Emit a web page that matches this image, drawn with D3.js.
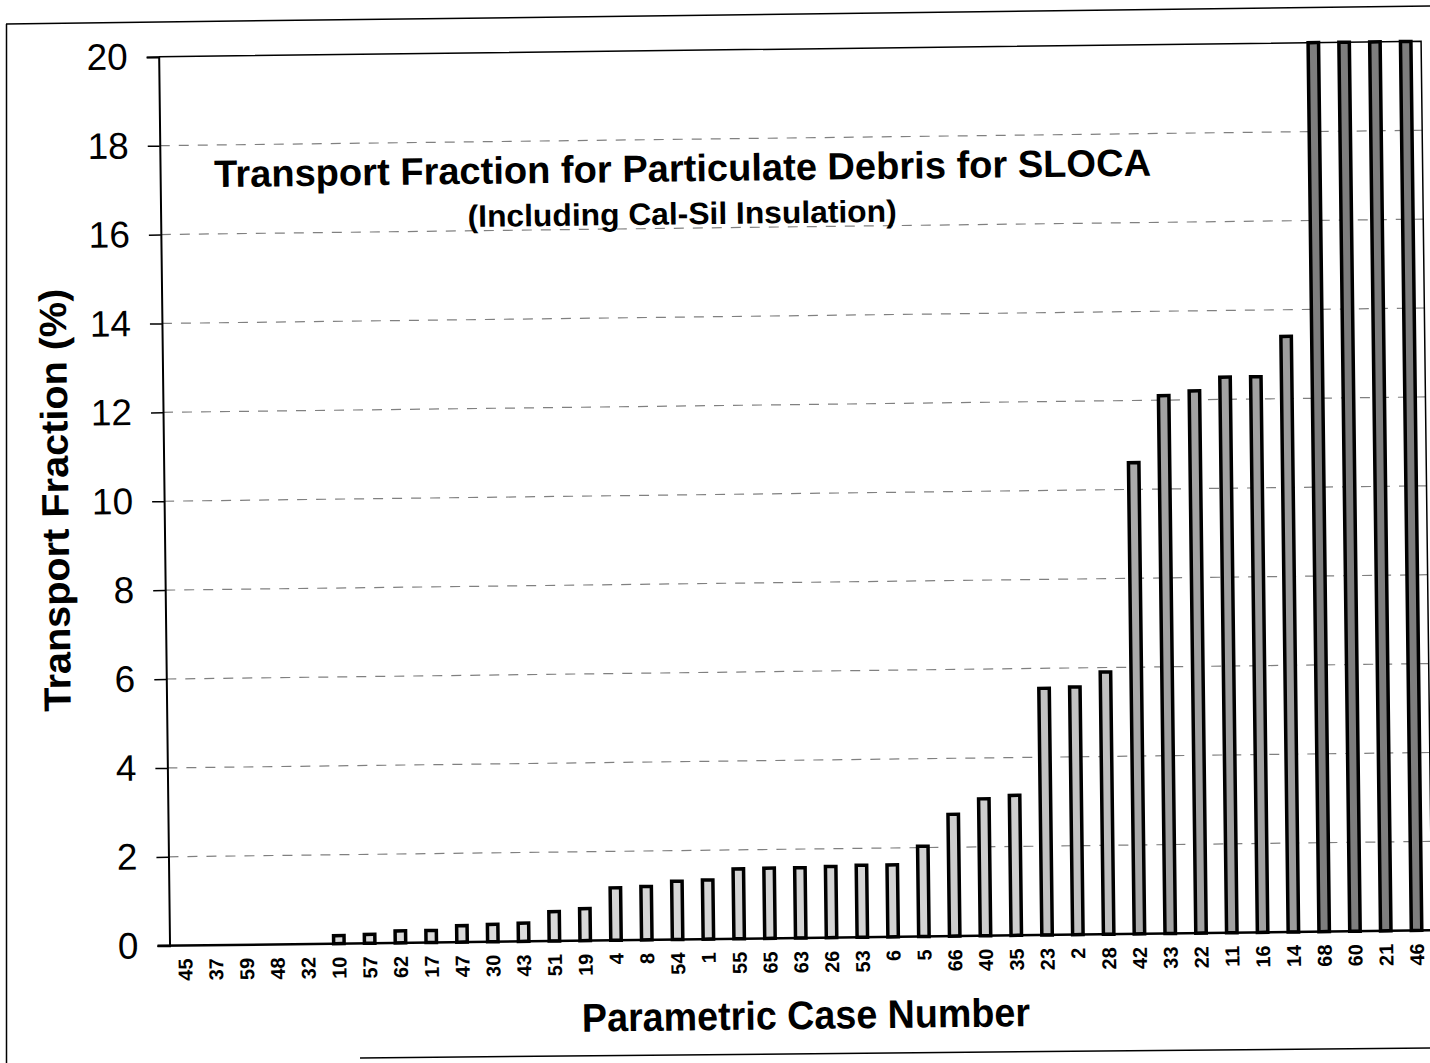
<!DOCTYPE html>
<html>
<head>
<meta charset="utf-8">
<script src="https://cdn.jsdelivr.net/npm/d3@7"></script>
<style>
  html, body { margin: 0; padding: 0; background: #fff; }
  svg { display: block; }
  text { font-family: Arial, "Liberation Sans", Helvetica, sans-serif; fill: #000; }
</style>
</head>
<body>
<svg id="chart" width="1430" height="1063"></svg>
<script>
// ---- data ----
const cases = ["45","37","59","48","32","10","57","62","17","47","30","43","51","19","4","8","54","1","55","65","63","26","53","6","5","66","40","35","23","2","28","42","33","22","11","16","14","68","60","21","46"];
const transportFraction = [0,0,0,0,0,0.18,0.2,0.27,0.27,0.37,0.39,0.41,0.66,0.72,1.18,1.2,1.31,1.33,1.57,1.58,1.58,1.6,1.62,1.62,2.03,2.74,3.08,3.15,5.55,5.57,5.9,10.6,12.1,12.2,12.5,12.5,13.4,20,20,20,20];
const yTicks = [0,2,4,6,8,10,12,14,16,18,20];
const titleText = "Transport Fraction for Particulate Debris for SLOCA";
const subtitleText = "(Including Cal-Sil Insulation)";
const xTitle = "Parametric Case Number";
const yTitle = "Transport Fraction (%)";

const W = 1430, H = 1063;
const svg = d3.select("#chart");
svg.append("rect").attr("width", W).attr("height", H).attr("fill", "#fff");

// outer page frame (scan border)
const frame = svg.append("g").attr("stroke", "#000").attr("fill", "none");
frame.append("line").attr("x1", 6.5).attr("y1", 24).attr("x2", 6.5).attr("y2", 1063).attr("stroke-width", 1.5);
frame.append("line").attr("x1", 6).attr("y1", 24).attr("x2", 1430).attr("y2", 6).attr("stroke-width", 1.5);
frame.append("line").attr("x1", 360).attr("y1", 1058).attr("x2", 1430).attr("y2", 1048).attr("stroke-width", 1.5);

// chart group, slightly tilted like the scanned original
const g = svg.append("g").attr("transform", "rotate(-0.7, 715, 530)");

const plot = { left: 164.5, right: 1427, top: 50, bottom: 939 };

const x = d3.scaleBand()
  .domain(cases)
  .range([plot.left, plot.right])
  .paddingInner(0.66)
  .paddingOuter(0.33);

const y = d3.scaleLinear().domain([0, 20]).range([plot.bottom, plot.top]);

const fill = d3.scaleLinear().domain([0, 20]).range(["#dcdcdc", "#7e7e7e"]);

// gridlines
g.append("g")
  .selectAll("line")
  .data(yTicks.filter(t => t > 0 && t < 20))
  .join("line")
  .attr("x1", plot.left).attr("x2", plot.right)
  .attr("y1", d => y(d)).attr("y2", d => y(d))
  .attr("stroke", "#808080")
  .attr("stroke-width", 1.2)
  .attr("stroke-dasharray", "10,9");

// plot border (top & right)
g.append("path")
  .attr("d", `M${plot.left},${plot.top}H${plot.right}V${plot.bottom}`)
  .attr("fill", "none").attr("stroke", "#000").attr("stroke-width", 1.5);

// bars
g.append("g")
  .selectAll("rect")
  .data(cases.map((c, i) => ({ c, v: transportFraction[i] })))
  .join("rect")
  .attr("x", d => x(d.c))
  .attr("width", x.bandwidth())
  .attr("y", d => y(d.v))
  .attr("height", d => y(0) - y(d.v))
  .attr("fill", d => fill(d.v))
  .attr("stroke", "#000")
  .attr("stroke-width", 3.5);

// y axis
const yAxis = g.append("g")
  .attr("transform", `translate(${plot.left},0)`)
  .call(d3.axisLeft(y).tickValues(yTicks).tickSize(12).tickPadding(19).tickFormat(d3.format("d")));
yAxis.select(".domain").attr("stroke", "#000").attr("stroke-width", 2);
yAxis.selectAll(".tick line").attr("stroke", "#000").attr("stroke-width", 1.5);
yAxis.selectAll(".tick text")
  .attr("font-size", 37)
  .attr("font-family", "Arial, 'Liberation Sans', sans-serif")
  .attr("fill", "#000");

// x axis
const xAxis = g.append("g")
  .attr("transform", `translate(0,${plot.bottom})`)
  .call(d3.axisBottom(x).tickSize(0).tickPadding(0));
xAxis.select(".domain").attr("d", `M${plot.left - 12},0H${plot.right}`).attr("stroke", "#000").attr("stroke-width", 2.5);
xAxis.selectAll(".tick text")
  .attr("transform", "rotate(-90)")
  .attr("text-anchor", "end")
  .attr("x", -13)
  .attr("y", 0)
  .attr("dy", "0.36em")
  .attr("font-size", 20)
  .attr("font-weight", "bold")
  .attr("font-family", "Arial, 'Liberation Sans', sans-serif")
  .attr("fill", "#000");

// titles
g.append("text")
  .attr("x", 687).attr("y", 181)
  .attr("text-anchor", "middle")
  .attr("font-size", 38).attr("font-weight", "bold")
  .attr("textLength", 937).attr("lengthAdjust", "spacingAndGlyphs")
  .text(titleText);

g.append("text")
  .attr("x", 686).attr("y", 224)
  .attr("text-anchor", "middle")
  .attr("font-size", 31).attr("font-weight", "bold")
  .attr("textLength", 429).attr("lengthAdjust", "spacingAndGlyphs")
  .text(subtitleText);

g.append("text")
  .attr("transform", "translate(55,492) rotate(-90)")
  .attr("text-anchor", "middle")
  .attr("dy", "0.36em")
  .attr("font-size", 38).attr("font-weight", "bold")
  .attr("textLength", 423).attr("lengthAdjust", "spacingAndGlyphs")
  .text(yTitle);

g.append("text")
  .attr("x", 800).attr("y", 1030)
  .attr("text-anchor", "middle")
  .attr("font-size", 40).attr("font-weight", "bold")
  .attr("textLength", 448).attr("lengthAdjust", "spacingAndGlyphs")
  .text(xTitle);
</script>
</body>
</html>
